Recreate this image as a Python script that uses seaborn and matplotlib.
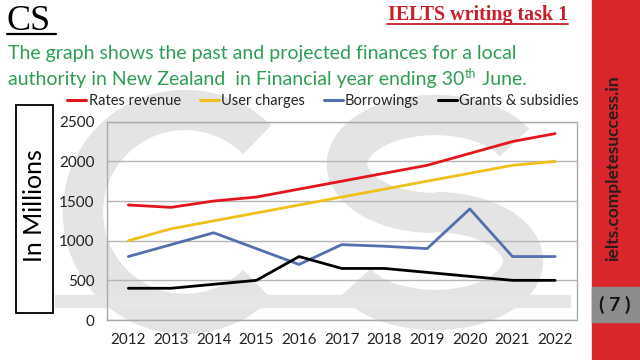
import matplotlib
matplotlib.use('Agg')
import matplotlib.pyplot as plt
import seaborn as sns
import pandas as pd
import numpy as np
from matplotlib.patches import Rectangle, Arc
from matplotlib.lines import Line2D

# Chart data
years = list(range(2012, 2023))
rates_revenue = [1450, 1420, 1500, 1550, 1650, 1750, 1850, 1950, 2100, 2250, 2350]
user_charges = [1000, 1150, 1250, 1350, 1450, 1550, 1650, 1750, 1850, 1950, 2000]
borrowings = [800, 950, 1100, 900, 700, 950, 930, 900, 1400, 800, 800]
grants_subsidies = [400, 400, 450, 500, 800, 650, 650, 600, 550, 500, 500]
series_names = ['Rates revenue', 'User charges', 'Borrowings', 'Grants & subsidies']
y_ticks = [0, 500, 1000, 1500, 2000, 2500]

df = pd.DataFrame({
    'year': years * 4,
    'value': rates_revenue + user_charges + borrowings + grants_subsidies,
    'series': np.repeat(series_names, len(years)),
})

colors = {'Rates revenue': '#e3161d', 'User charges': '#f0c01a',
          'Borrowings': '#5270ae', 'Grants & subsidies': '#000000'}

sns.set_theme(style='white')
plt.rcParams['font.family'] = ['Lato', 'DejaVu Sans']

fig = plt.figure(figsize=(6.4, 3.6), dpi=100)
fig.patch.set_facecolor('white')


def px(x, y):
    # pixel position (from top-left) -> inches for fig.dpi_scale_trans
    return (x / 100, (360 - y) / 100)


# faint "CS" watermark drawn as thick arcs behind the chart
wm = '#e4e4e4'
fig.patches.append(Arc(px(185, 212), 2.04, 2.04, theta1=45, theta2=315,
                       linewidth=29, color=wm, transform=fig.dpi_scale_trans, zorder=-2))
fig.patches.append(Arc(px(435, 164), 1.76, 0.98, theta1=15, theta2=270,
                       linewidth=29, color=wm, transform=fig.dpi_scale_trans, zorder=-2))
fig.patches.append(Arc(px(435, 261), 1.76, 0.98, theta1=-165, theta2=90,
                       linewidth=29, color=wm, transform=fig.dpi_scale_trans, zorder=-2))
fig.patches.append(Rectangle((55 / 640, 1 - 307 / 360), 515 / 640, 12 / 360,
                             transform=fig.transFigure, color='#e6e6e6', zorder=-1))

ax = fig.add_axes([107 / 640, 40 / 360, 469.5 / 640, 198.3 / 360])
ax.patch.set_alpha(0)

sns.lineplot(data=df, x='year', y='value', hue='series', palette=colors,
             hue_order=series_names, linewidth=2.0, legend=False, ax=ax)

ax.set_xlim(2011.5, 2022.5)
ax.set_ylim(0, 2500)
ax.set_xticks(years)
ax.set_xticks(np.arange(2011.5, 2023, 1), minor=True)
ax.set_yticks(y_ticks)
ax.tick_params(axis='x', which='major', length=0, pad=9, labelsize=11, colors='#222222')
ax.tick_params(axis='x', which='minor', length=5, width=0.8, color='#999999', direction='out')
ax.tick_params(axis='y', length=4, width=0.8, color='#999999', direction='out',
               labelsize=11, labelcolor='#222222', pad=5)
ax.set_xlabel('')
ax.set_ylabel('')
ax.grid(axis='y', color='#b5b5b5', linewidth=1)
ax.grid(axis='x', visible=False)
for side in ['left', 'bottom', 'right', 'top']:
    ax.spines[side].set_color('#aaaaaa')
    ax.spines[side].set_linewidth(1)

# legend across the top
handles = [Line2D([], [], color=colors[s], linewidth=2.2) for s in series_names]
fig.legend(handles, series_names, loc='center', bbox_to_anchor=(0.505, 1 - 101 / 360),
           ncol=4, frameon=False, handlelength=1.3, handletextpad=0.15,
           columnspacing=1.3, fontsize=10.5)

# y-axis label in a box
fig.patches.append(Rectangle((16 / 640, 1 - 313 / 360), 37 / 640, 208 / 360,
                             transform=fig.transFigure, fill=False,
                             edgecolor='black', linewidth=1.3))
fig.text(35 / 640, 1 - 206 / 360, 'In Millions', rotation=90, ha='center',
         va='center', fontsize=18, color='black')

# header texts
fig.text(7 / 640, 1 - 30 / 360, 'CS', family='Liberation Serif', fontsize=26,
         color='black', ha='left', va='baseline')
fig.add_artist(Line2D([7 / 640, 56 / 640], [1 - 34 / 360, 1 - 34 / 360],
                      color='black', linewidth=1.6))
fig.text(568 / 640, 1 - 20 / 360, 'IELTS writing task 1', family='Liberation Serif',
         fontweight='bold', fontsize=14.4, color='#c8202a', ha='right', va='baseline')
fig.add_artist(Line2D([387 / 640, 568 / 640], [1 - 24 / 360, 1 - 24 / 360],
                      color='#c8202a', linewidth=1.3))

green = '#2f9e55'
fig.text(8 / 640, 1 - 59 / 360,
         'The graph shows the past and projected finances for a local',
         fontsize=14, color=green, ha='left', va='baseline')

renderer = fig.canvas.get_renderer()
t1 = fig.text(8 / 640, 1 - 85 / 360, 'authority in New Zealand  in Financial year ending 30',
              fontsize=14, color=green, ha='left', va='baseline')
bb = t1.get_window_extent(renderer)
t2 = fig.text(bb.x1 / 640 + 0.001, 1 - 78 / 360, 'th', fontsize=9, color=green,
              ha='left', va='baseline')
bb2 = t2.get_window_extent(renderer)
fig.text(bb2.x1 / 640, 1 - 85 / 360, ' June.', fontsize=14, color=green,
         ha='left', va='baseline')

# right-hand red band with site name and page number
fig.patches.append(Rectangle((592 / 640, 0), 48 / 640, 1, transform=fig.transFigure,
                             color='#d9262d', zorder=1))
fig.patches.append(Rectangle((592 / 640, 1 - 322 / 360), 48 / 640, 35 / 360,
                             transform=fig.transFigure, color='#8c8c8c', zorder=2))
fig.text(613 / 640, 1 - 168 / 360, 'ielts.completesuccess.in', rotation=90,
         fontsize=12.5, fontweight='bold', color='#2a1c1c', ha='center', va='center', zorder=3)
fig.text(615 / 640, 1 - 305 / 360, '( 7 )', fontsize=14, fontweight='bold',
         color='#111111', ha='center', va='center', zorder=3)

fig.savefig('out.png', dpi=100)
